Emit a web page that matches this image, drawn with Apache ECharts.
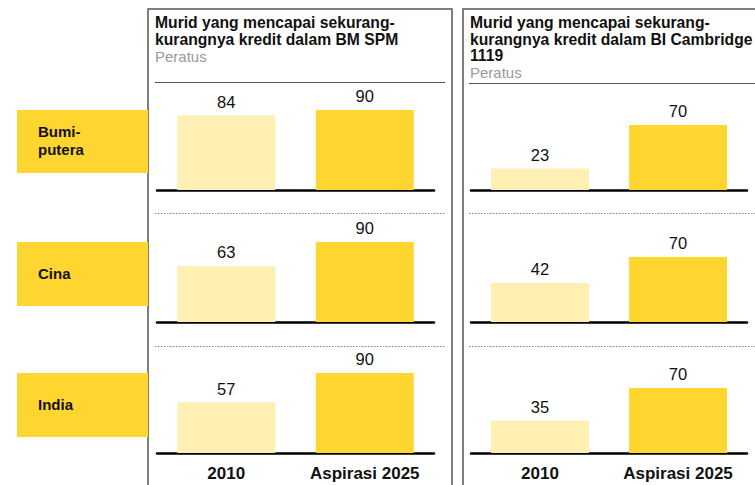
<!DOCTYPE html>
<html><head><meta charset="utf-8">
<script src="https://cdn.jsdelivr.net/npm/echarts@6/dist/echarts.min.js"></script>
<style>html,body{margin:0;padding:0;background:#fff}#c{width:755px;height:485px}</style>
</head><body><div id="c"></div>
<script>
var categories = ['2010', 'Aspirasi 2025'];
var groups = ['Bumi-\nputera', 'Cina', 'India'];
var bmSpm2010 = [84, 63, 57];
var bmSpm2025 = [90, 90, 90];
var bi2010 = [23, 42, 35];
var bi2025 = [70, 70, 70];
var panelTitles = [
  'Murid yang mencapai sekurang-\nkurangnya kredit dalam BM SPM',
  'Murid yang mencapai sekurang-\nkurangnya kredit dalam BI Cambridge\n1119'
];
var unitLabel = 'Peratus';

var FONT = 'Liberation Sans, Arial, sans-serif';
var LIGHT = '#FEEFB3', DARK = '#FFD52F';
var baselines = [190, 322, 453];
var panels = [
  {left: 157, width: 277, h: 89, a: bmSpm2010, b: bmSpm2025},
  {left: 471, width: 276, h: 93, a: bi2010, b: bi2025}
];

var grids = [], xAxes = [], yAxes = [], series = [];
panels.forEach(function (p, pi) {
  for (var r = 0; r < 3; r++) {
    var idx = grids.length;
    grids.push({left: p.left, width: p.width, top: baselines[r] - p.h, height: p.h});
    xAxes.push({
      type: 'category', gridIndex: idx, data: categories,
      axisLine: {show: true, lineStyle: {color: '#000', width: 2.5}},
      axisTick: {show: false},
      axisLabel: {show: r === 2, interval: 0, margin: 12, fontFamily: FONT, fontSize: 17, fontWeight: 'bold', color: '#111'}
    });
    yAxes.push({type: 'value', gridIndex: idx, min: 0, max: 100, show: false, splitLine: {show: false}});
    series.push({
      type: 'bar', xAxisIndex: idx, yAxisIndex: idx, barWidth: 98, z: 1,
      data: [
        {value: p.a[r], itemStyle: {color: LIGHT}},
        {value: p.b[r], itemStyle: {color: DARK}}
      ],
      label: {show: true, position: 'top', distance: 5, fontFamily: FONT, fontSize: 16.5, color: '#111'},
      silent: true
    });
  }
});

var graphic = [];
graphic.push({type: 'rect', shape: {x: 148, y: 9, width: 304, height: 500}, style: {fill: 'none', stroke: '#555', lineWidth: 1.5}, z: -1});
graphic.push({type: 'rect', shape: {x: 463, y: 9, width: 320, height: 500}, style: {fill: 'none', stroke: '#555', lineWidth: 1.5}, z: -1});
graphic.push({type: 'text', x: 155, y: 13.5, style: {text: panelTitles[0], font: 'bold 15.7px ' + FONT, fill: '#111', lineHeight: 17, verticalAlign: 'top'}});
graphic.push({type: 'text', x: 155, y: 56, style: {text: unitLabel, font: '15px ' + FONT, fill: '#999', verticalAlign: 'middle'}});
graphic.push({type: 'text', x: 470, y: 14.8, style: {text: panelTitles[1], font: 'bold 15.7px ' + FONT, fill: '#111', lineHeight: 16.3, verticalAlign: 'top'}});
graphic.push({type: 'text', x: 470, y: 72, style: {text: unitLabel, font: '15px ' + FONT, fill: '#999', verticalAlign: 'middle'}});
graphic.push({type: 'line', shape: {x1: 155, y1: 82.5, x2: 445, y2: 82.5}, style: {stroke: '#555', lineWidth: 1}});
graphic.push({type: 'line', shape: {x1: 469, y1: 83.5, x2: 755, y2: 83.5}, style: {stroke: '#555', lineWidth: 1}});
[213.5, 346.5].forEach(function (y) {
  graphic.push({type: 'line', shape: {x1: 155, y1: y, x2: 445, y2: y}, style: {stroke: '#888', lineWidth: 1.2, lineDash: [1.5, 1.5]}});
  graphic.push({type: 'line', shape: {x1: 469, y1: y, x2: 755, y2: y}, style: {stroke: '#888', lineWidth: 1.2, lineDash: [1.5, 1.5]}});
});
var boxes = [{y: 110, h: 63}, {y: 242, h: 64}, {y: 373, h: 64}];
boxes.forEach(function (b, i) {
  graphic.push({type: 'rect', shape: {x: 17, y: b.y, width: 131, height: b.h}, style: {fill: DARK}, z: 0});
  graphic.push({type: 'text', x: 38, y: b.y + b.h / 2 - 1, style: {text: groups[i], font: 'bold 15px ' + FONT, fill: '#111', verticalAlign: 'middle', lineHeight: 18}, z: 1});
});

var chart = echarts.init(document.getElementById('c'), null, {renderer: 'svg'});
chart.setOption({
  animation: false,
  grid: grids, xAxis: xAxes, yAxis: yAxes, series: series, graphic: graphic
});
</script>
</body></html>
